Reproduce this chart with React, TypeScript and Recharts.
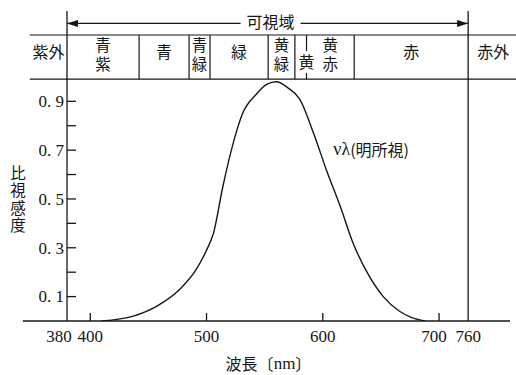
import { LineChart, Line, XAxis, YAxis, ReferenceArea, ReferenceLine, ReferenceDot } from "recharts";

// relative luminous efficiency curve
const WAVELENGTH = [410, 437, 457, 477, 491, 500, 506, 514, 523, 531, 543, 552, 560, 570, 580, 592, 603, 615, 626, 638, 652, 666, 676, 688];
const SENSITIVITY = [0, 0.02, 0.06, 0.13, 0.21, 0.29, 0.36, 0.55, 0.73, 0.85, 0.93, 0.97, 0.98, 0.955, 0.91, 0.77, 0.62, 0.47, 0.32, 0.2, 0.1, 0.04, 0.015, 0];

const X_TICKS = [380, 400, 500, 600, 700, 760];
const Y_TICKS = [0.1, 0.2, 0.3, 0.4, 0.5, 0.6, 0.7, 0.8, 0.9];
const Y_LABELED = [0.1, 0.3, 0.5, 0.7, 0.9];

// colour names band above the plot
const BAND_EDGES = [348, 380, 442, 485, 503, 553, 576, 586, 627, 760, 803];
const BAND_NAMES = ["紫外", "青紫", "青", "青緑", "緑", "黄緑", "黄", "黄赤", "赤", "赤外"];

const VISIBLE = [380, 760];
const BAND_ROW = [0.991, 1.1716];
const ARROW_Y = 1.219;
const Y_MAX = 1.27;
const AXIS_START = 342;

// the printed axis is even from 380 to 700 nm, then 700-760 is squeezed
const AXIS_KNOTS = [380, 700, 760, 796];
const AXIS_STEPS = [0, 320, 345, 381];

const INK = "#161616";
const SERIF = '"Liberation Serif", "DejaVu Serif", serif';
const JP = '"Noto Sans CJK JP", "Noto Sans CJK SC", sans-serif';

function warpScale(knots: number[], steps: number[]) {
    let dom = [knots[0], knots[knots.length - 1]];
    let rng = [0, 1];
    const warp = (v: number) => {
        let i = 0;
        while (i < knots.length - 2 && v > knots[i + 1]) i++;
        const t = (v - knots[i]) / (knots[i + 1] - knots[i]);
        return steps[i] + t * (steps[i + 1] - steps[i]);
    };
    const s: any = (v: number) => {
        const a = warp(dom[0]);
        const b = warp(dom[dom.length - 1]);
        return rng[0] + ((warp(Number(v)) - a) / (b - a)) * (rng[rng.length - 1] - rng[0]);
    };
    s.domain = (d?: any[]) => {
        if (d === undefined) return dom.slice();
        dom = d.map(Number);
        return s;
    };
    s.range = (r?: any[]) => {
        if (r === undefined) return rng.slice();
        rng = r.map(Number);
        return s;
    };
    s.copy = () => warpScale(knots, steps).domain(dom).range(rng);
    s.ticks = () => knots.filter((k) => k >= dom[0] && k <= dom[dom.length - 1]);
    s.tickFormat = () => (v: number) => String(v);
    s.clamp = () => s;
    s.nice = () => s;
    s.invert = (px: number) => {
        const a = warp(dom[0]);
        const b = warp(dom[dom.length - 1]);
        const w = a + ((px - rng[0]) / (rng[rng.length - 1] - rng[0])) * (b - a);
        let i = 0;
        while (i < steps.length - 2 && w > steps[i + 1]) i++;
        return knots[i] + ((w - steps[i]) / (steps[i + 1] - steps[i])) * (knots[i + 1] - knots[i]);
    };
    return s;
}

const X_SCALE = warpScale(AXIS_KNOTS, AXIS_STEPS);

const data = WAVELENGTH.map((nm, i) => ({ nm, v: SENSITIVITY[i] }));
const YELLOW = BAND_NAMES.indexOf("黄");

function XTick({ x, y, payload }: any) {
    const v = payload.value;
    const shift = v === 380 ? -8 : v === 700 ? -5 : 0;
    const inner = v > VISIBLE[0] && v < VISIBLE[1];
    return (
        <g>
            {inner && <line x1={x} x2={x} y1={y - 4} y2={y - 12} stroke={INK} strokeWidth={1.3} />}
            <text x={x + shift} y={y + 17} textAnchor="middle" fontFamily={SERIF} fontSize={17} fill={INK}>
                {v}
            </text>
        </g>
    );
}

function YTick({ x, y, payload }: any) {
    const v = payload.value;
    const labeled = Y_LABELED.some((t) => Math.abs(t - v) < 1e-6);
    return (
        <g>
            <line x1={x + 3} x2={x + 12} y1={y} y2={y} stroke={INK} strokeWidth={1.3} />
            {labeled && (
                <text x={x} y={y} dy="0.34em" textAnchor="end" fontFamily={SERIF} fontSize={17} fill={INK}>
                    {`0. ${Math.round(v * 10)}`}
                </text>
            )}
        </g>
    );
}

// vertical (tategaki) text, centred on x, y
function Vertical({ x, y, text, size, gap }: any) {
    return (
        <text x={x} y={y} textAnchor="middle" dominantBaseline="central" fontFamily={JP} fontSize={size}
            fill={INK} letterSpacing={gap} style={{ writingMode: "vertical-rl" }}>
            {text}
        </text>
    );
}

function BandLabel({ viewBox, name }: any) {
    if (!viewBox) return null;
    const cx = viewBox.x + viewBox.width / 2;
    const cy = viewBox.y + viewBox.height / 2;
    const stacked = name.length === 2 && !name.endsWith("外");
    if (!stacked) {
        return (
            <text x={cx} y={cy - 6} textAnchor="middle" dominantBaseline="central" fontFamily={JP} fontSize={16} fill={INK}>
                {name}
            </text>
        );
    }
    return <Vertical x={cx} y={cy - 1} text={name} size={15.5} gap={3} />;
}

function Knockout({ viewBox, text, w, h, dx, dy }: any) {
    if (!viewBox) return null;
    const cx = viewBox.x + viewBox.width / 2 + dx;
    const cy = viewBox.y + viewBox.height / 2 + dy;
    return (
        <g>
            <rect x={cx - w / 2} y={cy - h / 2} width={w} height={h} fill="#fff" />
            <text x={cx} y={cy - 1} textAnchor="middle" dominantBaseline="central" fontFamily={JP} fontSize={16} fill={INK}>
                {text}
            </text>
        </g>
    );
}

function CurveLabel({ viewBox }: any) {
    if (!viewBox) return null;
    return (
        <text x={viewBox.x} y={viewBox.y} dominantBaseline="central" fill={INK} fontSize={16}>
            <tspan fontFamily={SERIF} fontSize={18}>νλ</tspan>
            <tspan fontFamily={JP}>(明所視)</tspan>
        </text>
    );
}

function YTitle({ viewBox }: any) {
    if (!viewBox) return null;
    const cy = viewBox.y + viewBox.height * (1 - 0.5 / Y_MAX);
    return <Vertical x={viewBox.x + 18} y={cy + 1} text="比視感度" size={15.5} gap={2} />;
}

function XTitle({ viewBox }: any) {
    if (!viewBox) return null;
    return (
        <text x={viewBox.x + viewBox.width / 2 - 20} y={viewBox.y + 42} textAnchor="middle" dominantBaseline="central" fontFamily={JP} fontSize={16} fill={INK}>
            波長〔<tspan fontFamily={SERIF} fontSize={17}>nm</tspan>〕
        </text>
    );
}

const arrowShape = (p: any) => (
    <line x1={p.x1} y1={p.y1} x2={p.x2} y2={p.y2} stroke={INK} strokeWidth={1.3}
        markerStart="url(#arrowHead)" markerEnd="url(#arrowHead)" />
);

export default function App() {
    return (
        <div style={{ position: "absolute", left: 0, top: 0, width: 516, height: 375, background: "#fff" }}>
            <LineChart width={516} height={375} data={data} margin={{ top: 11, right: 6, bottom: 0, left: 0 }}>
                <defs>
                    <marker id="arrowHead" viewBox="0 0 11 7" refX={11} refY={3.5} markerWidth={11} markerHeight={7}
                        markerUnits="userSpaceOnUse" orient="auto-start-reverse">
                        <path d="M0,0 L11,3.5 L0,7 Z" fill={INK} />
                    </marker>
                </defs>
                <XAxis
                    dataKey="nm"
                    type="number"
                    scale={X_SCALE}
                    domain={[AXIS_KNOTS[0], AXIS_KNOTS[AXIS_KNOTS.length - 1]]}
                    allowDataOverflow
                    ticks={X_TICKS}
                    interval={0}
                    tickSize={0}
                    tickMargin={4}
                    tickLine={false}
                    tick={<XTick />}
                    axisLine={{ stroke: INK, strokeWidth: 1.3 }}
                    height={54}
                    label={(p: any) => <XTitle {...p} />}
                />
                <YAxis
                    type="number"
                    domain={[0, Y_MAX]}
                    allowDataOverflow
                    ticks={Y_TICKS}
                    interval={0}
                    tickSize={0}
                    tickMargin={3}
                    tickLine={false}
                    tick={<YTick />}
                    axisLine={{ stroke: INK, strokeWidth: 1.3 }}
                    width={67}
                    label={(p: any) => <YTitle {...p} />}
                />
                {/* axis continues left of the 380 nm line */}
                <ReferenceLine segment={[{ x: AXIS_START, y: 0 }, { x: VISIBLE[0], y: 0 }]} stroke={INK} strokeWidth={1.3} ifOverflow="visible" />
                <ReferenceLine x={VISIBLE[1]} stroke={INK} strokeWidth={1.3} ifOverflow="visible" />

                {/* band row */}
                {BAND_ROW.map((y) => (
                    <ReferenceLine key={y} segment={[{ x: BAND_EDGES[0], y }, { x: BAND_EDGES[BAND_EDGES.length - 1], y }]}
                        stroke={INK} strokeWidth={1.2} ifOverflow="visible" />
                ))}
                {BAND_EDGES.slice(1, -1).filter((e) => !VISIBLE.includes(e)).map((e) => (
                    <ReferenceLine key={e} segment={[{ x: e, y: BAND_ROW[0] }, { x: e, y: BAND_ROW[1] }]}
                        stroke={INK} strokeWidth={1.2} ifOverflow="visible"
                        label={e === BAND_EDGES[YELLOW + 1]
                            ? (p: any) => <Knockout {...p} text="黄" w={16} h={22} dx={0} dy={5} />
                            : undefined} />
                ))}
                {BAND_NAMES.map((name, i) => (
                    <ReferenceArea key={name} x1={BAND_EDGES[i]} x2={BAND_EDGES[i + 1]} y1={BAND_ROW[0]} y2={BAND_ROW[1]}
                        fill="none" stroke="none" ifOverflow="visible"
                        label={i === YELLOW ? undefined : (p: any) => <BandLabel {...p} name={name} />} />
                ))}

                {/* visible range arrow */}
                <ReferenceLine segment={[{ x: VISIBLE[0], y: ARROW_Y }, { x: VISIBLE[1], y: ARROW_Y }]}
                    ifOverflow="visible" shape={arrowShape}
                    label={(p: any) => <Knockout {...p} text="可視域" w={60} h={20} dx={3} dy={-1} />} />

                <ReferenceDot x={609} y={0.705} r={0} fill="none" stroke="none" ifOverflow="visible"
                    label={(p: any) => <CurveLabel {...p} />} />

                <Line
                    type="monotone"
                    dataKey="v"
                    stroke={INK}
                    strokeWidth={1.4}
                    dot={false}
                    activeDot={false}
                    isAnimationActive={false}
                />
            </LineChart>
        </div>
    );
}
